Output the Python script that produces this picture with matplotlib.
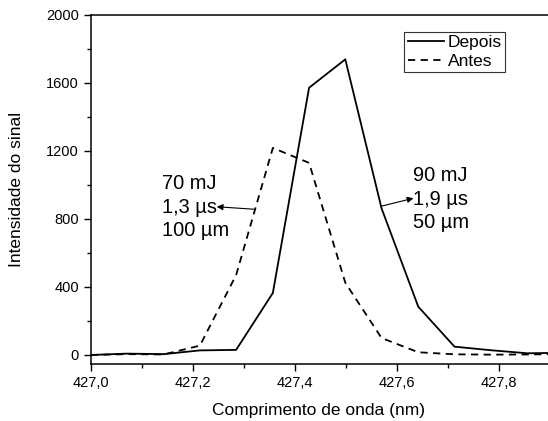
import matplotlib
matplotlib.use("Agg")
from matplotlib import pyplot as plt
from matplotlib.ticker import MultipleLocator, FuncFormatter

plt.rcParams['font.family'] = ['Liberation Sans', 'DejaVu Sans']

# comprimento de onda (nm)
wl = [427.0, 427.071, 427.143, 427.214, 427.285, 427.357, 427.428,
      427.499, 427.570, 427.642, 427.713, 427.784, 427.856, 427.927]
depois = [0, 8, 5, 27, 30, 365, 1572, 1739, 863, 284, 49, 28, 10, 13]
antes = [0, 5, 3, 55, 470, 1218, 1130, 425, 100, 16, 4, 2, 3, 5]

fig = plt.figure(figsize=(5.48, 4.21), dpi=100)
ax = fig.add_axes([0.1655, 0.1354, 0.838, 0.829])

ax.plot(wl, depois, color='black', lw=1.3, label='Depois')
ax.plot(wl, antes, color='black', lw=1.3, linestyle=(0, (4, 3)), label='Antes')

ax.set_xlim(427.0, 427.9)
ax.set_ylim(-53, 2000)
ax.xaxis.set_major_locator(MultipleLocator(0.2))
ax.xaxis.set_minor_locator(MultipleLocator(0.1))
ax.yaxis.set_major_locator(MultipleLocator(400))
ax.yaxis.set_minor_locator(MultipleLocator(200))
ax.xaxis.set_major_formatter(FuncFormatter(lambda v, p: f"{v:.1f}".replace('.', ',')))
ax.tick_params(which='both', direction='out', labelsize=10.5, width=1)
ax.tick_params(which='major', length=5)
ax.tick_params(which='minor', length=3)
for s in ax.spines.values():
    s.set_linewidth(1.1)

ax.set_xlabel("Comprimento de onda (nm)", fontsize=12.5)
ax.set_ylabel("Intensidade do sinal", fontsize=12.5)
ax.xaxis.set_label_coords(0.497, -0.112)
ax.yaxis.set_label_coords(-0.145, 0.5)

leg = ax.legend(loc='upper right', bbox_to_anchor=(0.903, 0.952), fontsize=12.5,
                frameon=True, fancybox=False, edgecolor='black', handlelength=2.1,
                handletextpad=0.2, borderpad=0.2, labelspacing=0.2, borderaxespad=0)
leg.get_frame().set_linewidth(0.8)

# anotações
ax.text(427.139, 869, "70 mJ\n1,3 µs\n100 µm", fontsize=14.4, ha='left', va='center',
        linespacing=1.3)
ax.annotate('', xy=(427.247, 872), xytext=(427.322, 857),
            arrowprops=dict(arrowstyle='-|>', color='black', lw=0.8, mutation_scale=9,
                            shrinkA=0, shrinkB=0))
ax.text(427.6325, 916, "90 mJ\n1,9 µs\n50 µm", fontsize=14.4, ha='left', va='center',
        linespacing=1.3)
ax.annotate('', xy=(427.6325, 922), xytext=(427.5706, 876),
            arrowprops=dict(arrowstyle='-|>', color='black', lw=0.8, mutation_scale=9,
                            shrinkA=0, shrinkB=0))

fig.savefig("out.png", dpi=100)
